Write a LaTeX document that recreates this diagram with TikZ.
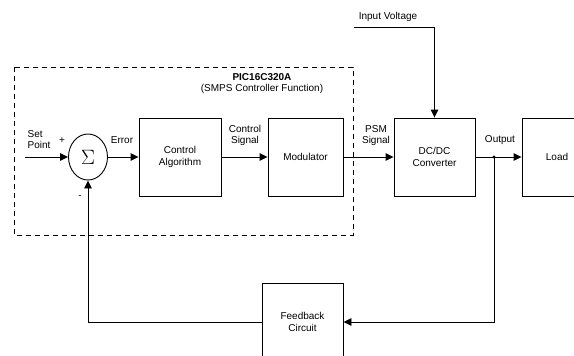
\documentclass[tikz,border=0pt]{standalone}
\usepackage{fontspec}
\setmainfont{Liberation Sans}
\usepackage{tikz}
\usetikzlibrary{positioning,arrows.meta,shapes.geometric}

\begin{document}
\begin{tikzpicture}[x=1pt,y=-1pt,
    block/.style={draw,line width=0.9pt,align=center,font=\fontsize{10}{11.5}\selectfont},
    lbl/.style={align=center,font=\fontsize{10}{11}\selectfont,inner sep=0pt},
    sig/.style={line width=0.9pt,-{Triangle[length=8pt,width=7.5pt]}},
    wire/.style={line width=0.9pt}]
    \useasboundingbox (0,0) rectangle (574,356);
    % controller boundary
    \draw[dashed,line width=0.8pt,dash pattern=on 5pt off 4pt] (14,67) rectangle (353,235);
    \node[lbl] (pic) at (262,84) {\textbf{PIC16C320A}\\(SMPS Controller Function)};
    % blocks
    \node[draw,ellipse,line width=0.9pt,minimum width=39pt,minimum height=46pt,inner sep=0pt,font=\fontsize{22}{22}\selectfont] (sum) at (88,157) {$\Sigma$};
    \node[block,minimum width=82pt,minimum height=78pt] (ctrl) at (180,157) {Control\\Algorithm};
    \node[block,minimum width=75pt,minimum height=78pt] (mod) at (305.5,157) {Modulator};
    \node[block,minimum width=81pt,minimum height=78pt] (conv) at (434.5,157) {DC/DC\\Converter};
    \node[block,minimum width=70pt,minimum height=78pt] (load) at (557,157) {Load};
    \node[block,minimum width=81pt,minimum height=78pt] (fb) at (302.5,322) {Feedback\\Circuit};
    % labels
    \node[lbl,align=left] (setpt) at (39,140) {Set\\Point};
    \node[lbl] (plus) at (62,141) {+};
    \node[lbl] (minus) at (80,197) {-};
    \node[lbl] (err) at (122,140) {Error};
    \node[lbl] (csig) at (245,135) {Control\\Signal};
    \node[lbl] (psig) at (376,136) {PSM\\Signal};
    \node[lbl] (out) at (500,140) {Output};
    \node[lbl] (vin) at (388,17) {Input Voltage};
    \coordinate (spin) at (25,157);
    \coordinate (vinl) at (354,27);
    \coordinate (vinr) at (434.5,27);
    \coordinate (tap) at (494,157);
    % signal path
    \draw[sig] (spin) -- (sum);
    \draw[sig] (sum) -- (ctrl);
    \draw[sig] (ctrl) -- (mod);
    \draw[sig] (mod) -- (conv);
    \draw[sig] (conv) -- (load);
    \draw[sig] (vinl) -- (vinr) -- (conv.north);
    % feedback loop
    \fill (tap) circle (1.6pt);
    \draw[sig] (tap) |- (fb.east);
    \draw[sig] (fb.west) -| (sum.south);
\end{tikzpicture}
\end{document}
